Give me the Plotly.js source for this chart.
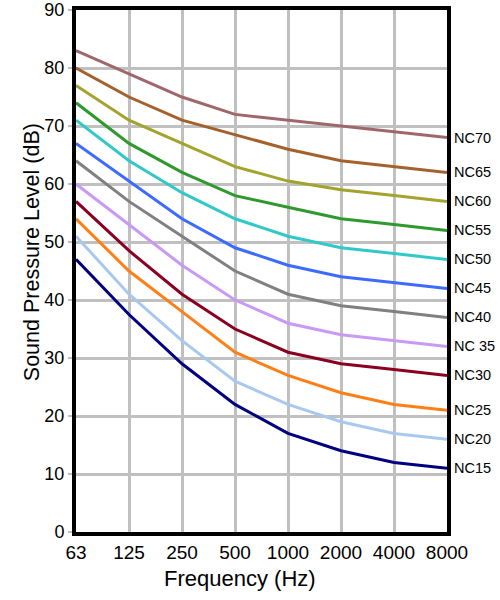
<!DOCTYPE html>
<html>
<head>
<meta charset="utf-8">
<script src="https://cdn.plot.ly/plotly-3.0.1.min.js"></script>
<style>html,body{margin:0;padding:0;background:#fff;}#chart{width:500px;height:600px;}</style>
</head>
<body>
<div id="chart"></div>
<script>
const frequencies = ["63", "125", "250", "500", "1000", "2000", "4000", "8000"];
const curveNames = ["NC70", "NC65", "NC60", "NC55", "NC50", "NC45", "NC40", "NC 35", "NC30", "NC25", "NC20", "NC15"];
const nc70 = [83, 79, 75, 72, 71, 70, 69, 68];
const nc65 = [80, 75, 71, 68.5, 66, 64, 63, 62];
const nc60 = [77, 71, 67, 63, 60.5, 59, 58, 57];
const nc55 = [74, 67, 62, 58, 56, 54, 53, 52];
const nc50 = [71, 64, 58.5, 54, 51, 49, 48, 47];
const nc45 = [67, 60.5, 54, 49, 46, 44, 43, 42];
const nc40 = [64, 57, 51, 45, 41, 39, 38, 37];
const nc35 = [60, 53, 46, 40, 36, 34, 33, 32];
const nc30 = [57, 48.5, 41, 35, 31, 29, 28, 27];
const nc25 = [54, 45, 38, 31, 27, 24, 22, 21];
const nc20 = [51, 41, 33, 26, 22, 19, 17, 16];
const nc15 = [47, 37.5, 29, 22, 17, 14, 12, 11];
const curveValues = [nc70, nc65, nc60, nc55, nc50, nc45, nc40, nc35, nc30, nc25, nc20, nc15];
const curveColors = ["#a0676b", "#a5612b", "#a3a32e", "#2e9a2e", "#30c8c8", "#3d6bff", "#808080", "#c899f5", "#8b0020", "#ff7f17", "#a8c8ee", "#000080"];

const FONT = "Liberation Sans, Arial, sans-serif";

const traces = curveValues.map((vals, i) => ({
  type: "scatter",
  mode: "lines",
  x: frequencies,
  y: vals,
  name: curveNames[i],
  line: {color: curveColors[i], width: 3},
  hoverinfo: "skip"
}));

const annotations = curveValues.map((vals, i) => ({
  xref: "paper", yref: "y",
  x: 1,
  y: vals[vals.length - 1],
  text: curveNames[i],
  showarrow: false,
  xanchor: "left",
  yanchor: "middle",
  xshift: 5,
  font: {family: FONT, size: 14.5, color: "#000"}
}));

annotations.push({
  xref: "paper", yref: "paper",
  x: 0.442, y: 0,
  yshift: -46,
  xanchor: "center", yanchor: "middle",
  text: "Frequency (Hz)",
  showarrow: false,
  font: {family: FONT, size: 22, color: "#000"}
});

annotations.push({
  xref: "paper", yref: "paper",
  x: 0, y: 0.536,
  xshift: -44,
  xanchor: "center", yanchor: "middle",
  textangle: -90,
  text: "Sound Pressure Level (dB)",
  showarrow: false,
  font: {family: FONT, size: 21.5, color: "#000"}
});

const layout = {
  width: 500, height: 600,
  margin: {l: 76, r: 53, t: 10, b: 68},
  paper_bgcolor: "#fff",
  plot_bgcolor: "#fff",
  showlegend: false,
  font: {family: FONT, color: "#000"},
  xaxis: {
    type: "category",
    range: [0, 7],
    showgrid: true,
    gridcolor: "#c0c0c0",
    gridwidth: 3,
    showline: true,
    linecolor: "#000",
    linewidth: 4,
    mirror: true,
    ticks: "",
    tickfont: {family: FONT, size: 19, color: "#000"},
    zeroline: false,
    fixedrange: true
  },
  yaxis: {
    range: [0, 90],
    dtick: 10,
    tick0: 0,
    showgrid: true,
    gridcolor: "#c0c0c0",
    gridwidth: 3,
    showline: true,
    linecolor: "#000",
    linewidth: 4,
    mirror: true,
    ticks: "outside",
    ticklen: 4,
    tickwidth: 2,
    tickcolor: "#c0c0c0",
    tickfont: {family: FONT, size: 18, color: "#000"},
    zeroline: false,
    fixedrange: true
  },
  annotations: annotations
};

Plotly.newPlot("chart", traces, layout, {displayModeBar: false, staticPlot: true});
</script>
</body>
</html>
